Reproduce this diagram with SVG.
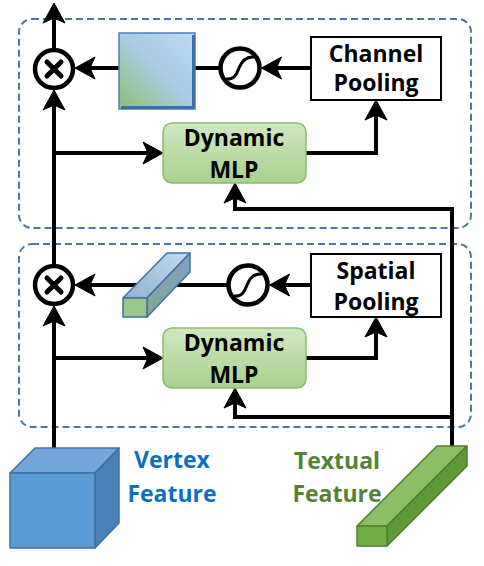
<svg xmlns="http://www.w3.org/2000/svg" width="484" height="566" viewBox="0 0 484 566">
<defs>
<style>
.conn{fill:none;stroke:#000;stroke-width:4;stroke-linejoin:miter;marker-end:url(#ah)}
.dash{fill:none;stroke:#4a78a6;stroke-width:2;stroke-dasharray:7 4}
.lbl{font-family:"Open Sans","Liberation Sans",sans-serif;font-weight:bold;font-size:23px;text-anchor:middle;fill:#000}
.mlp{fill:url(#gMlp);stroke:#8dbb6e;stroke-width:1.5}
.pool{fill:#fff;stroke:#000;stroke-width:2}
.op{fill:#fff;stroke:#000;stroke-width:4.5}
.x{fill:none;stroke:#000;stroke-width:5;stroke-linecap:round}
.sig{fill:none;stroke:#000;stroke-width:3}
</style>
<marker id="ah" markerUnits="userSpaceOnUse" orient="auto" markerWidth="40" markerHeight="40" refX="0" refY="0" viewBox="-20 -20 40 40" overflow="visible">
<path d="M5,0 L-15,-11 L-10,0 L-15,11 Z" fill="#000" stroke="#000" stroke-width="1"/>
</marker>
<linearGradient id="gMlp" x1="0" y1="0" x2="0" y2="1"><stop offset="0" stop-color="#d0e7c1"/><stop offset="1" stop-color="#a9d18e"/></linearGradient>
<linearGradient id="gSq" x1="1" y1="0" x2="0" y2="1"><stop offset="0" stop-color="#c0d9f2"/><stop offset="0.5" stop-color="#a8cbe3"/><stop offset="1" stop-color="#8cc16c"/></linearGradient>
<linearGradient id="gBarTop" x1="1" y1="0" x2="0" y2="1"><stop offset="0" stop-color="#c4d9f0"/><stop offset="1" stop-color="#8fb2d2"/></linearGradient>
<linearGradient id="gBarSide" x1="1" y1="0" x2="0" y2="1"><stop offset="0" stop-color="#7f9fc2"/><stop offset="1" stop-color="#7fa794"/></linearGradient>
</defs>

<g id="frames">
<rect class="dash" x="19" y="19" width="452" height="209" rx="13"/>
<rect class="dash" x="19" y="244" width="452" height="183" rx="13"/>
</g>

<g id="connectors">
<path class="conn" d="M54,450 L54,311"/>
<path class="conn" d="M54,358 L158,358"/>
<path class="conn" d="M54,264 L54,95"/>
<path class="conn" d="M54,153 L158,153"/>
<path class="conn" d="M54,48 L54,8"/>
<path class="conn" d="M311,68 L266.5,68"/>
<path class="conn" d="M219,68 L80,68"/>
<path class="conn" d="M311,285 L274.5,285"/>
<path class="conn" d="M227,285 L80,285"/>
<path class="conn" d="M306,153 L376,153 L376,105"/>
<path class="conn" d="M306,358 L376,358 L376,322"/>
<path class="conn" d="M452,448 L452,209 L235,209 L235,188"/>
<path class="conn" d="M452,417 L235,417 L235,393"/>
</g>

<g id="mul-top" transform="translate(54,69)">
<circle class="op" r="19"/>
<path class="x" d="M-7,-7 L7,7 M7,-7 L-7,7"/>
</g>
<g id="mul-bottom" transform="translate(54,285)">
<circle class="op" r="19"/>
<path class="x" d="M-7,-7 L7,7 M7,-7 L-7,7"/>
</g>

<g id="sigmoid-top" transform="translate(240,68)">
<circle class="op" r="19.5" stroke-width="4"/>
<path class="sig" d="M-14,11 C-5,12 -3,5 -1,0 C1,-5 5,-12 14,-11"/>
</g>
<g id="sigmoid-bottom" transform="translate(248,285)">
<circle class="op" r="19.5" stroke-width="4"/>
<path class="sig" d="M-14,11 C-5,12 -3,5 -1,0 C1,-5 5,-12 14,-11"/>
</g>

<g id="channel-weight">
<rect x="119" y="33" width="76" height="76" fill="url(#gSq)" stroke="#4f7fb5" stroke-width="1.5"/>
<path d="M193.5,35 L193.5,108 M121,107.5 L194,107.5" stroke="#3f6fa6" stroke-width="3" fill="none"/>
</g>

<g id="spatial-weight" stroke="#41719c" stroke-width="1.5" stroke-linejoin="round">
<polygon points="123,298 167,253 190,253 147,298" fill="url(#gBarTop)"/>
<polygon points="147,298 190,253 190,272 147,317" fill="url(#gBarSide)"/>
<rect x="123" y="298" width="24" height="19" fill="#9ac58c"/>
</g>

<g id="channel-pooling">
<rect class="pool" x="311" y="37" width="130" height="63"/>
<text class="lbl" x="376" y="62">Channel</text>
<text class="lbl" x="376" y="91">Pooling</text>
</g>
<g id="spatial-pooling">
<rect class="pool" x="311" y="254" width="130" height="63"/>
<text class="lbl" x="376" y="279">Spatial</text>
<text class="lbl" x="376" y="310">Pooling</text>
</g>

<g id="mlp-top">
<rect class="mlp" x="163" y="123" width="143" height="60" rx="9"/>
<text class="lbl" x="234" y="146">Dynamic</text>
<text class="lbl" x="234" y="178">MLP</text>
</g>
<g id="mlp-bottom">
<rect class="mlp" x="163" y="328" width="143" height="60" rx="9"/>
<text class="lbl" x="234" y="351">Dynamic</text>
<text class="lbl" x="234" y="383">MLP</text>
</g>

<g id="vertex-feature" stroke="#41719c" stroke-width="1.5" stroke-linejoin="round">
<polygon points="10,473 35,448 119,448 95,473" fill="#74a6dc"/>
<polygon points="95,473 119,448 119,523 95,548" fill="#4a80b9"/>
<rect x="10" y="473" width="85" height="75" fill="#5b9bd5"/>
<text class="lbl" x="172" y="468" stroke="none" style="fill:#0a6fc0">Vertex</text>
<text class="lbl" x="172" y="502" stroke="none" style="fill:#0a6fc0">Feature</text>
</g>

<g id="textual-feature" stroke="#507e32" stroke-width="1.5" stroke-linejoin="round">
<polygon points="357,526 437,446 467,446 387,526" fill="#8cbf65"/>
<polygon points="387,526 467,446 467,466 387,546" fill="#5e9a37"/>
<rect x="357" y="526" width="30" height="20" fill="#70ad47"/>
<text class="lbl" x="337" y="469" stroke="none" style="fill:#548235">Textual</text>
<text class="lbl" x="337" y="502" stroke="none" style="fill:#548235">Feature</text>
</g>
</svg>
